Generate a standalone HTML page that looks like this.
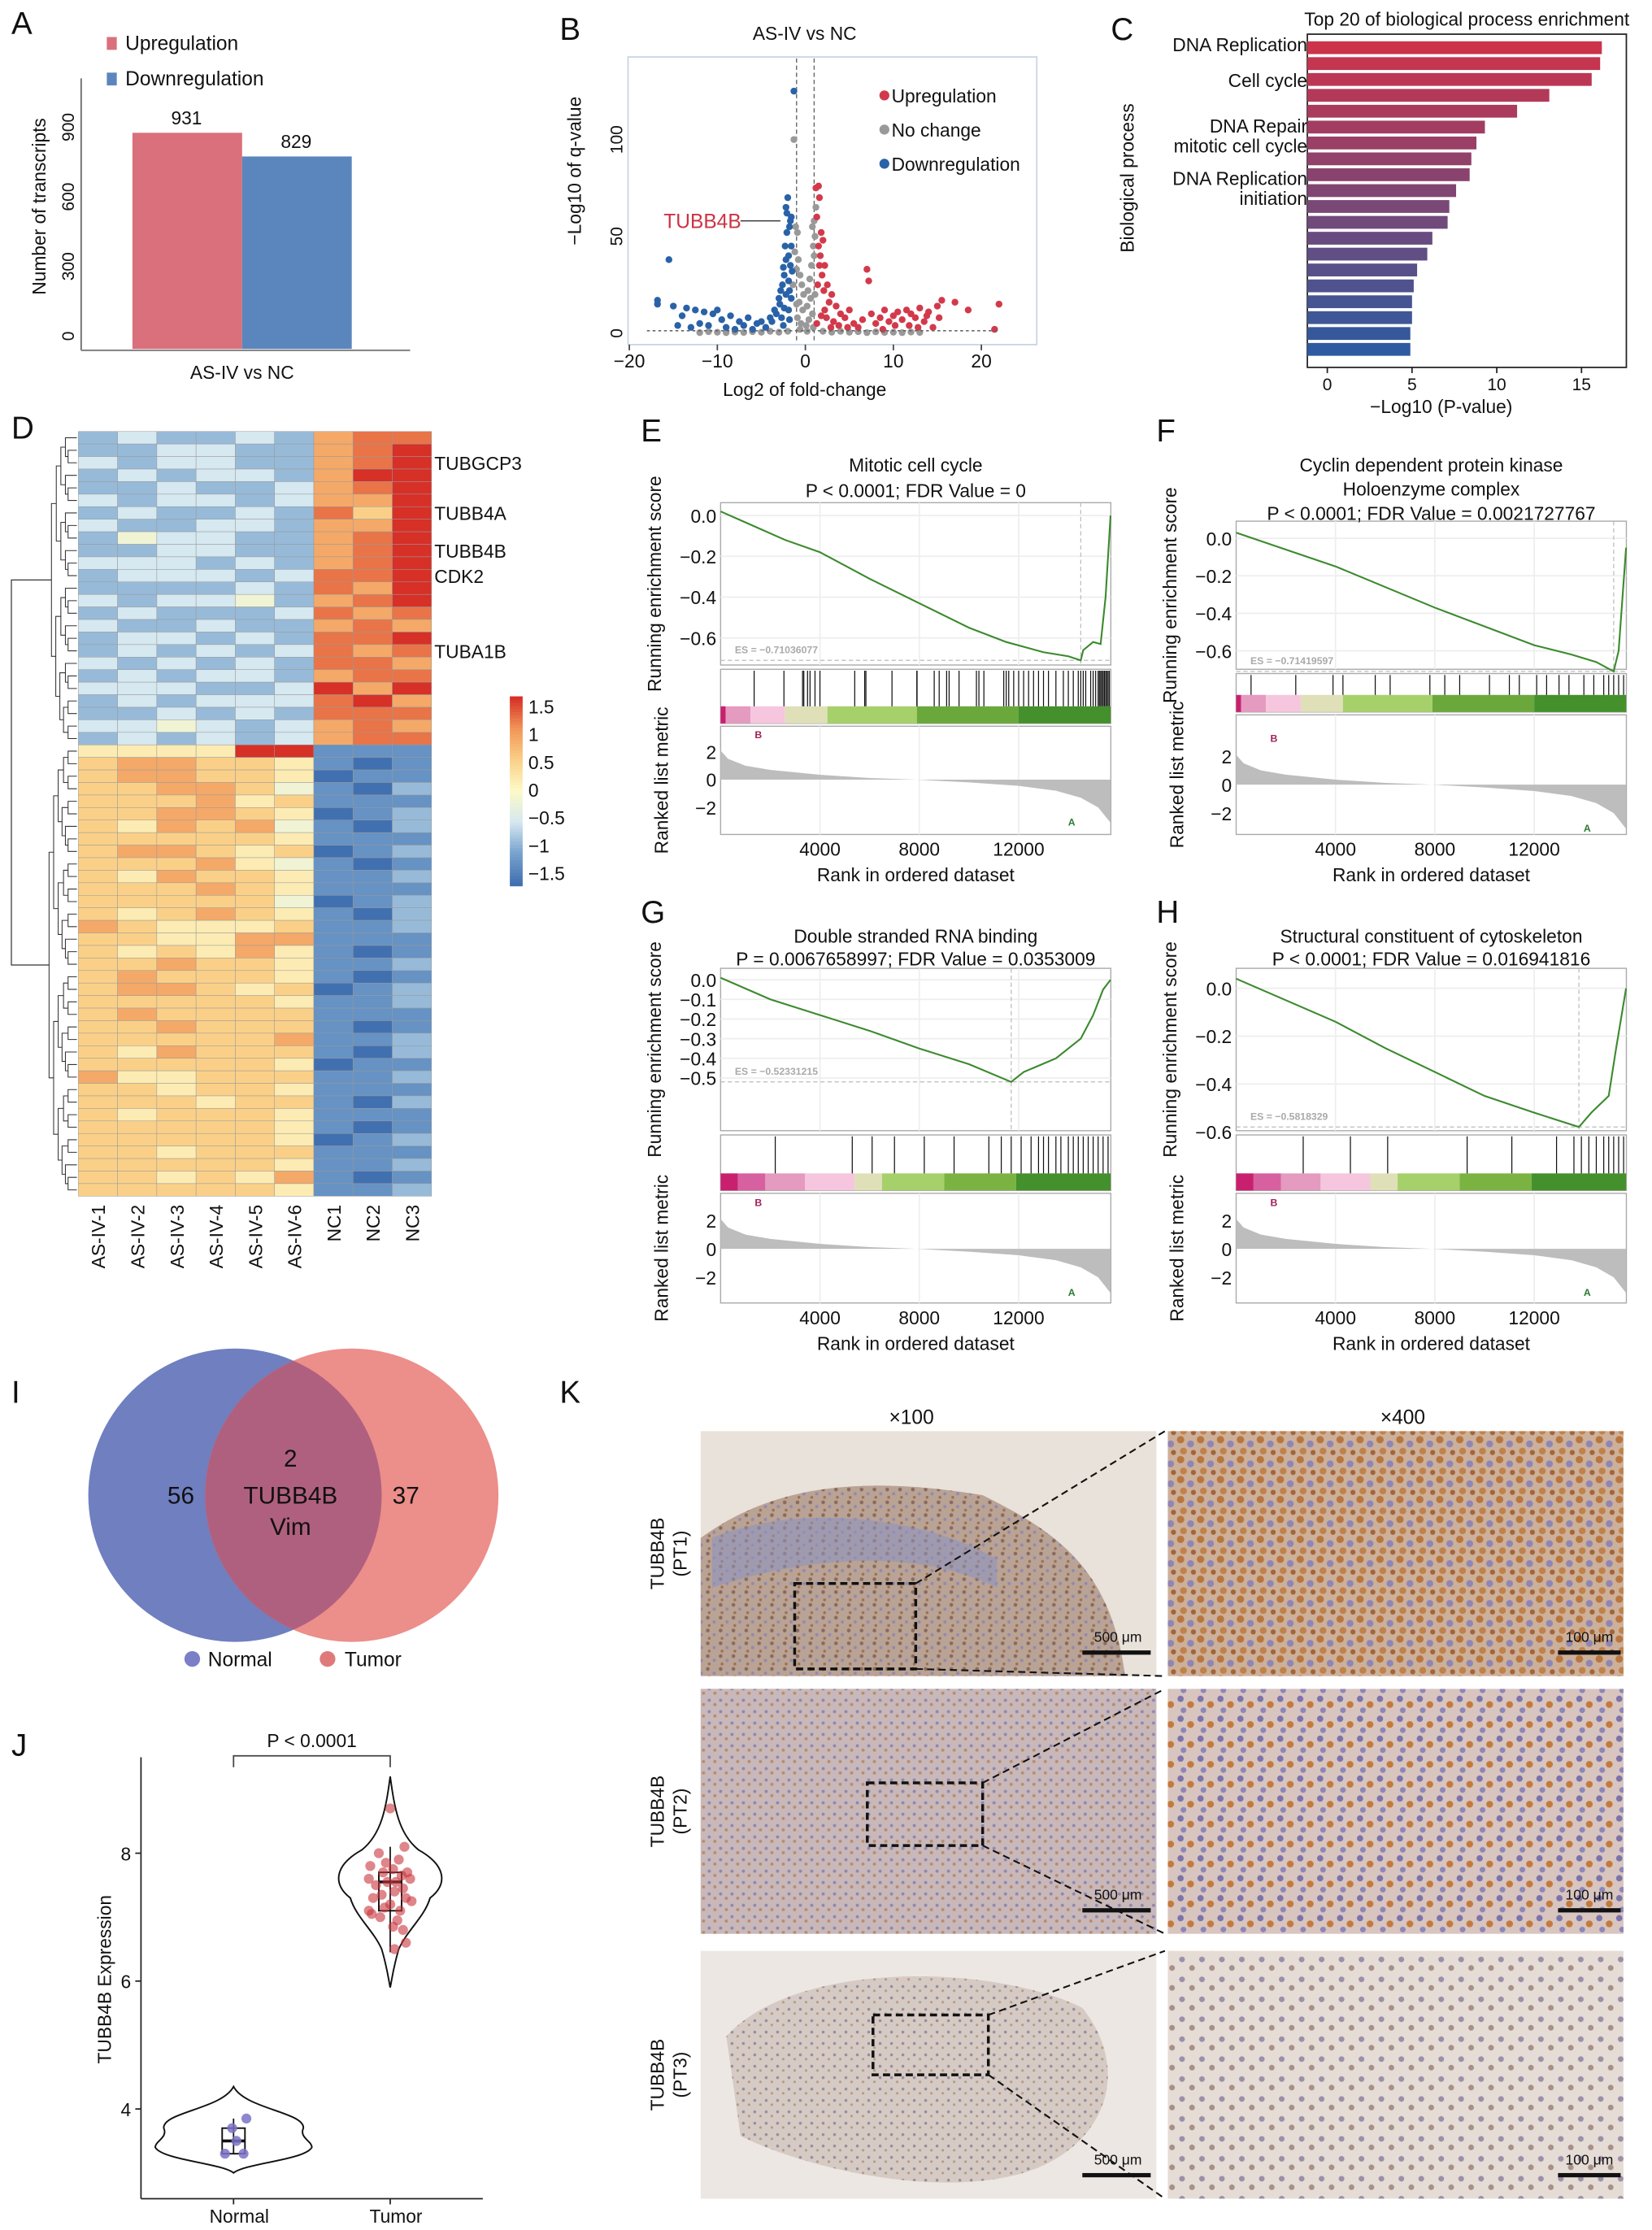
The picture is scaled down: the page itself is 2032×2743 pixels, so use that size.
<!DOCTYPE html>
<html><head><meta charset="utf-8">
<style>
html,body{margin:0;padding:0;background:#fff;}
svg{display:block;font-family:"Liberation Sans",Arial,sans-serif;}
</style></head>
<body>
<svg id="fig" width="2032" height="2743" viewBox="0 0 1160 1566" preserveAspectRatio="none" xmlns="http://www.w3.org/2000/svg">
<defs>
<pattern id="tisA" width="9" height="9" patternUnits="userSpaceOnUse"><rect width="9" height="9" fill="#b9a394"/><circle cx="2" cy="2" r="1.3" fill="#8a6a5e"/><circle cx="6.5" cy="5" r="1.1" fill="#9488b0"/><circle cx="3" cy="7.5" r="1" fill="#a07050"/></pattern>
<pattern id="tisB" width="8" height="8" patternUnits="userSpaceOnUse"><rect width="8" height="8" fill="#c3b2b6"/><circle cx="2" cy="2" r="1.1" fill="#7e74a8"/><circle cx="6" cy="5" r="1.1" fill="#b07a55"/></pattern>
<pattern id="tisC" width="8" height="8" patternUnits="userSpaceOnUse"><rect width="8" height="8" fill="#d6cbc4"/><circle cx="2" cy="3" r="1" fill="#9a8a9a"/><circle cx="6" cy="6" r="0.9" fill="#b59a88"/></pattern>
<pattern id="hiA" width="14" height="14" patternUnits="userSpaceOnUse"><rect width="14" height="14" fill="#cdb09a"/><circle cx="3" cy="3" r="2.6" fill="#b8763e"/><circle cx="10" cy="6" r="2.4" fill="#8f86b5"/><circle cx="5" cy="11" r="2.4" fill="#c0824a"/><circle cx="12" cy="12" r="1.8" fill="#a3643a"/></pattern>
<pattern id="hiB" width="14" height="14" patternUnits="userSpaceOnUse"><rect width="14" height="14" fill="#d8c5c0"/><circle cx="3" cy="3" r="2.2" fill="#7c73aa"/><circle cx="10" cy="7" r="2.4" fill="#c47a3c"/><circle cx="5" cy="11" r="2" fill="#8d86b8"/></pattern>
<pattern id="hiC" width="14" height="14" patternUnits="userSpaceOnUse"><rect width="14" height="14" fill="#e6dcd6"/><circle cx="4" cy="4" r="2" fill="#9c8fa8"/><circle cx="11" cy="10" r="2" fill="#a78f8a"/></pattern>
</defs>
<g id="root"></g>
</svg>
<script>
// ---------- DATA ----------
const barCats = ["Upregulation","Downregulation"];
const barVals = [931,829];
const barTicks = [0,300,600,900];

const volUp = [[1.2,75],[1.5,76],[1.6,70],[1.3,60],[1.8,52],[2,48],[1.5,45],[1.7,40],[2.2,35],[1.9,30],[2.5,25],[2.1,22],[3,20],[2.7,16],[3.5,14],[2.2,12],[4,10],[4.5,8],[3.2,6],[5,12],[5.5,5],[6,3],[7,33],[7.2,27],[7.5,10],[8,5],[8.5,8],[9,12],[9.5,6],[10,9],[10.5,11],[11,7],[11.5,12],[12,10],[12.5,8],[13,13],[13.5,6],[14,11],[14.5,3],[15,14],[15.2,8],[15.5,17],[17,16],[18.5,12],[22,15],[21.5,2],[6.5,7],[4.8,3],[3.8,4],[2.4,8],[1.4,25],[1.6,35],[12.8,3],[10.2,4],[8.8,2],[1.3,5],[1.8,9],[2.9,3],[11.8,4],[13.8,9]];
const volDown = [[-1.3,125],[-2,70],[-2.2,65],[-2.1,62],[-1.7,58],[-1.8,55],[-1.6,60],[-2.1,52],[-2.3,45],[-1.9,40],[-2.2,38],[-1.7,35],[-1.5,32],[-2.4,30],[-1.9,27],[-2.6,25],[-1.8,22],[-2.2,20],[-1.6,18],[-2.9,15],[-2.4,13],[-1.9,12],[-3.3,10],[-2.7,8],[-1.8,7],[-3.8,6],[-2.5,4],[-4.5,3],[-5.5,5],[-6.5,8],[-7.5,6],[-8.5,9],[-9.5,7],[-10.5,10],[-11.5,11],[-12.5,12],[-13.5,13],[-14,9],[-15,14],[-16.8,15],[-16.8,17],[-15.5,38],[-12,5],[-11,4],[-9,3],[-8,2],[-13,3],[-14.5,4],[-10,12],[-7,4],[-6,2],[-5,6],[-4,8],[-3.5,12],[-3,18],[-2.8,22],[-1.6,45],[-2.5,34]];
const volNC = [[-1.3,100],[-1.1,55],[-0.9,52],[0.8,55],[1,58],[1.1,50],[0.9,45],[1,40],[0.7,35],[-0.8,38],[-1,33],[-0.6,30],[0.5,28],[-0.4,25],[0.3,22],[-0.2,20],[0.6,18],[-0.7,16],[0.2,14],[-0.3,12],[0.8,10],[-0.9,8],[0.4,7],[-0.5,5],[0.1,4],[0.9,3],[-0.6,2],[0.2,1],[-1,15],[1.1,20],[-1.2,42],[1.2,65],[-1.4,25],[-2,1],[-3,0.5],[-4,1],[-5,0.5],[-6,0.8],[-7,0.4],[-8,0.6],[-9,0.3],[-10,0.5],[-11,0.8],[-12,0.3],[2,1],[3,0.5],[4,1],[5,0.5],[6,0.8],[7,0.3],[8,0.7],[9,0.4],[10,0.5],[11,0.3],[12,0.6],[13,0.4]];
const volXTicks = [-20,-10,0,10,20];
const volYTicks = [0,50,100];

const goTerms = ["DNA Replication","Cell cycle","","DNA Repair","mitotic cell cycle","","DNA Replication","initiation"];
const goVals = [16.2,16.1,15.6,13.1,11.2,9.3,8.8,8.5,8.4,7.6,7.2,7.1,6.2,5.9,5.3,5.1,5.0,5.0,4.9,4.9];
const goTicks = [0,5,10,15];

const heatCols = ["AS-IV-1","AS-IV-2","AS-IV-3","AS-IV-4","AS-IV-5","AS-IV-6","NC1","NC2","NC3"];
const heatRows = ["232232788","223322789","323322789","232332799","223223789","323323779","232232869","322332779","243322789","223322789","333232789","233323889","222232879","323342789","232223878","322322787","233232889","232323878","323232887","232332788","333223979","232333897","223232888","334323787","232323788",
"555599111","677665101","677665011","667764102","666756111","667765012","657674102","666665111","677656012","666754101","657665112","666765111","666664012","656765102","765556112","665577111","656575101","667665112","676665101","677656012","666665112","676666111","667666101","666667112","657666102","666665011","755666112","665665111","666566102","656665111","666665101","666665012","665666111","666665112","665657101","666665112"];
const heatGenes = [["TUBGCP3",2],["TUBB4A",6],["TUBB4B",9],["CDK2",11],["TUBA1B",17]];
const legendTicks = [1.5,1,0.5,0,-0.5,-1,-1.5];

const esE = [[0,0.02],[1300,-0.05],[2600,-0.12],[4000,-0.18],[6000,-0.31],[8000,-0.43],[10000,-0.55],[11500,-0.62],[13000,-0.67],[14000,-0.69],[14500,-0.71],[14600,-0.66],[15000,-0.62],[15300,-0.63],[15500,-0.4],[15700,0.0]];
const esF = [[0,0.03],[2000,-0.06],[4000,-0.15],[6000,-0.26],[8000,-0.37],[10000,-0.47],[12000,-0.57],[13500,-0.62],[14500,-0.66],[15200,-0.71],[15400,-0.6],[15700,-0.05]];
const esG = [[0,0.01],[2000,-0.1],[4000,-0.18],[6000,-0.26],[8000,-0.35],[10000,-0.43],[11700,-0.52],[12200,-0.47],[13500,-0.4],[14500,-0.3],[15000,-0.18],[15400,-0.05],[15700,0.0]];
const esH = [[0,0.04],[2000,-0.05],[4000,-0.14],[6000,-0.25],[8000,-0.35],[10000,-0.45],[12000,-0.52],[13800,-0.58],[14300,-0.52],[15000,-0.45],[15300,-0.25],[15700,0.0]];
const hitsE = [1350,2550,3300,3350,3500,3600,3800,4000,5400,5800,5850,6900,7900,7910,8600,8800,9100,9200,9600,10300,10400,10600,11400,11500,11600,11800,12000,12200,12400,12600,12800,13000,13200,13500,13800,14000,14200,14400,14500,14600,14700,14900,15000,15100,15200,15250,15300,15350,15400,15450,15500,15550,15600,15650];
const hitsF = [600,2400,3900,4300,5600,6200,7800,8400,9000,10200,11000,11400,12100,12500,13000,13400,14000,14400,14800,15000,15200,15400,15600];
const hitsG = [2200,5300,6100,7000,8200,9400,10800,11300,11700,12100,12500,12800,13000,13200,13500,13700,14000,14200,14400,14600,14800,15000,15200,15400,15600];
const hitsH = [2700,4600,6100,9300,11100,12900,13600,13900,14200,14500,14800,15000,15200,15400,15600];
const metric = [[0,2.1],[300,1.5],[1000,1],[2000,0.7],[4000,0.35],[6000,0.12],[7900,0],[10000,-0.2],[12000,-0.45],[13500,-0.8],[14500,-1.3],[15200,-2],[15700,-3.1]];
const rankTicks = [4000,8000,12000];

const vennCounts = [56,2,37];
const violinNormal = [3.3,3.5,3.7,3.85,3.3];
const violinTumor = [8.7,8.1,8.0,7.9,7.85,7.8,7.75,7.7,7.7,7.65,7.6,7.6,7.55,7.55,7.5,7.45,7.4,7.35,7.3,7.3,7.25,7.2,7.15,7.1,7.1,7.05,7.0,6.95,6.85,6.8,6.6,6.5];
const violinTicks = [4,6,8];

// ---------- HELPERS ----------
const NS="http://www.w3.org/2000/svg";
const root=document.getElementById('root');
function mk(tag,attrs,parent){const e=document.createElementNS(NS,tag);for(const k in attrs)e.setAttribute(k,attrs[k]);(parent||root).appendChild(e);return e;}
function tx(x,y,s,size,opts,parent){opts=opts||{};const e=mk('text',{x:x,y:y,'font-size':size,fill:opts.fill||'#111','text-anchor':opts.anchor||'start'},parent);if(opts.rot)e.setAttribute('transform','rotate('+opts.rot+' '+x+' '+y+')');if(opts.weight)e.setAttribute('font-weight',opts.weight);e.textContent=s;return e;}
function grp(name){const g=mk('g',{});return g;}

[["A",8,24],["B",393,28],["C",780,28],["D",8,308],["E",450,310],["F",812,310],["G",450,648],["H",812,648],["I",8,985],["J",8,1233],["K",393,985]].forEach(p=>{
  const t=tx(p[1],p[2],p[0],22,{});
  
  
});

// ---------- A ----------
(function(){
  const g=grp('panel-a-bar-chart');
  const y=v=>245-v*0.163;
  const cols=["#d9707b","#5b86bd"];
  barCats.forEach((c,i)=>{
    const r=mk('rect',{x:93+i*77,y:y(barVals[i]),width:77,height:245-y(barVals[i]),fill:cols[i]},g);
    
    
    tx(131+i*77,y(barVals[i])-6,String(barVals[i]),13,{anchor:'middle'},g);
    const lr=mk('rect',{x:75,y:26+i*25,width:7,height:9,fill:cols[i]},g);
    
    
    tx(88,35+i*25,c,14,{},g);
  });
  mk('line',{x1:57,y1:55,x2:57,y2:246,stroke:'#444','stroke-width':0.8},g);
  mk('line',{x1:57,y1:246,x2:288,y2:246,stroke:'#888','stroke-width':1.2},g);
  barTicks.forEach(v=>tx(52,y(v)-9,String(v),12,{anchor:'middle',rot:-90},g));
  tx(32,145,'Number of transcripts',13,{anchor:'middle',rot:-90},g);
  tx(170,266,'AS-IV vs NC',13,{anchor:'middle'},g);
})();

// ---------- B ----------
(function(){
  const g=grp('panel-b-volcano');
  const x=v=>565.5+v*6.18, y=v=>234-v*1.36;
  mk('rect',{x:441,y:40,width:287,height:202,fill:'#fff',stroke:'#c8d4e6','stroke-width':1},g);
  tx(565,28,'AS-IV vs NC',13,{anchor:'middle'},g);
  mk('line',{x1:x(-1),y1:41,x2:x(-1),y2:241,stroke:'#666','stroke-dasharray':'3,2','stroke-width':0.8},g);
  mk('line',{x1:x(1),y1:41,x2:x(1),y2:241,stroke:'#666','stroke-dasharray':'3,2','stroke-width':0.8},g);
  const sets=[[volNC,'#999999','points-no-change'],[volDown,'#2a62a8','points-downregulation'],[volUp,'#d23a4c','points-upregulation']];
  sets.forEach(s=>{const sg=mk('g',{},g);
    s[0].forEach(p=>{const c=mk('circle',{cx:x(p[0]),cy:y(p[1]),r:2.4,fill:s[1]},sg);});});
  mk('line',{x1:x(-18),y1:y(1.3),x2:x(22),y2:y(1.3),stroke:'#666','stroke-dasharray':'2,2','stroke-width':0.9},g);
  volXTicks.forEach(v=>{mk('line',{x1:x(v),y1:242,x2:x(v),y2:246,stroke:'#444'},g);tx(x(v),258,v<0?'\u2212'+(-v):String(v),13,{anchor:'middle'},g);});
  volYTicks.forEach(v=>tx(437,y(v),String(v),12,{anchor:'middle',rot:-90},g));
  tx(408,120,'\u2212Log10 of q-value',13,{anchor:'middle',rot:-90},g);
  tx(565,278,'Log2 of fold-change',13,{anchor:'middle'},g);
  mk('line',{x1:520,y1:y(58),x2:548,y2:y(58),stroke:'#333','stroke-width':0.8},g);
  tx(466,y(58)+5,'TUBB4B',14,{fill:'#cc3344'},g);
  [['Upregulation','#d23a4c'],['No change','#999'],['Downregulation','#2a62a8']].forEach((l,i)=>{
    const c=mk('circle',{cx:621,cy:67+i*24,r:3.5,fill:l[1]},g);
    
    tx(626,72+i*24,l[0],13,{},g);});
})();

// ---------- C ----------
(function(){
  const g=grp('panel-c-go-bars');
  const x=v=>932+v*11.9;
  mk('rect',{x:918,y:24,width:224,height:234,fill:'none',stroke:'#222','stroke-width':1},g);
  tx(1030,18,'Top 20 of biological process enrichment',13,{anchor:'middle'},g);
  const n=goVals.length;
  goVals.forEach((v,i)=>{
    const t=i/(n-1);
    const r=Math.round(204+(46-204)*t), gg=Math.round(51+(90-51)*t), b=Math.round(74+(160-74)*t);
    const rc=mk('rect',{x:918,y:29+i*11.15,width:x(v)-918,height:9,fill:`rgb(${r},${gg},${b})`},g);
    
    
  });
  const ly=[36,61,0,93,107,0,130,144];
  goTerms.forEach((t,i)=>{if(t)tx(918,ly[i],t,13,{anchor:'end'},g);});
  goTicks.forEach(v=>{mk('line',{x1:x(v),y1:258,x2:x(v),y2:262,stroke:'#222'},g);tx(x(v),274,String(v),12,{anchor:'middle'},g);});
  tx(1012,290,'\u2212Log10 (P-value)',13,{anchor:'middle'},g);
  tx(796,125,'Biological process',13,{anchor:'middle',rot:-90},g);
})();

// ---------- D ----------
(function(){
  const g=grp('panel-d-heatmap');
  const X0=55,Y0=303,W=248,H=537;
  const cw=W/heatCols.length, rh=H/heatRows.length;
  const stops=[[-1.5,[65,112,176]],[-1,[120,163,206]],[-0.5,[214,232,240]],[0,[253,250,200]],[0.5,[250,208,136]],[1,[241,150,88]],[1.5,[214,48,39]]];
  function col(v){for(let i=0;i<stops.length-1;i++){const a=stops[i],b=stops[i+1];if(v<=b[0]){const t=Math.max(0,(v-a[0])/(b[0]-a[0]));return 'rgb('+a[1].map((c,k)=>Math.round(c+(b[1][k]-c)*t)).join(',')+')';}}return 'rgb(214,48,39)';}
  heatRows.forEach((row,r)=>{for(let c=0;c<heatCols.length;c++){
    const v=-1.5+parseInt(row[c])*(3/9);
    const cell=mk('rect',{x:X0+c*cw,y:Y0+r*rh,width:cw,height:rh,fill:col(v),stroke:'#9a9a9a','stroke-width':0.3},g);
    
    
  }});
  heatGenes.forEach(gn=>tx(305,Y0+gn[1]*rh+rh/2+5,gn[0],13,{},g));
  heatCols.forEach((c,i)=>tx(X0+(i+0.5)*cw+5,846,c,13,{anchor:'end',rot:-90},g));
  const dg=mk('g',{},g);
  function den(lo,hi){
    if(hi-lo===1)return [X0-1,Y0+lo*rh+rh/2];
    const mid=Math.floor((lo+hi)/2);
    const a=den(lo,mid),b=den(mid,hi);
    const n=hi-lo;
    const xx=Math.min(a[0],b[0],X0-3-Math.log2(n)*3.2)-1;
    mk('path',{d:`M${a[0]},${a[1]}H${xx}V${b[1]}H${b[0]}`,fill:'none',stroke:'#333','stroke-width':0.6},dg);
    return [xx,(a[1]+b[1])/2];
  }
  const t=den(0,25), b=den(25,heatRows.length);
  mk('path',{d:`M${t[0]},${t[1]}H8V${b[1]}H${b[0]}`,fill:'none',stroke:'#333','stroke-width':0.7},dg);
  const lg=mk('g',{},g);
  for(let i=0;i<60;i++){const v=1.5-3*i/59;mk('rect',{x:358,y:489+i*133/60,width:9,height:133/60+0.4,fill:col(v)},lg);}
  legendTicks.forEach(v=>tx(371,497+(1.5-v)/3*117+4,v<0?'\u2212'+(-v):String(v),13,{},lg));
})();

// ---------- GSEA ----------
function gsea(cfg){
  const g=grp(cfg.name);
  const x=r=>cfg.x0+r*0.01744;
  const W=274;
  const y=v=>cfg.y0-v*cfg.k;
  mk('rect',{x:cfg.x0,y:cfg.top,width:W,height:cfg.tb-cfg.top,fill:'#fff',stroke:'#aaa','stroke-width':0.8},g);
  rankTicks.forEach(r=>mk('line',{x1:x(r),y1:cfg.top,x2:x(r),y2:cfg.tb,stroke:'#eee'},g));
  cfg.ticks.forEach(v=>{mk('line',{x1:cfg.x0,y1:y(v),x2:cfg.x0+W,y2:y(v),stroke:'#eee'},g);tx(cfg.x0-3,y(v)+5,(v<0?'\u2212':'')+Math.abs(v).toFixed(1),13,{anchor:'end'},g);});
  const mn=cfg.es.reduce((m,p)=>p[1]<m[1]?p:m);
  mk('line',{x1:cfg.x0,y1:y(mn[1]),x2:cfg.x0+W,y2:y(mn[1]),stroke:'#bbb','stroke-dasharray':'3,2','stroke-width':0.7},g);
  mk('line',{x1:x(mn[0]),y1:cfg.top,x2:x(mn[0]),y2:cfg.tb,stroke:'#bbb','stroke-dasharray':'3,2','stroke-width':0.7},g);
  const ln=mk('path',{d:'M'+cfg.es.map(p=>x(p[0])+','+y(p[1])).join('L'),fill:'none',stroke:'#3c8a2e','stroke-width':1.2},g);
  
  tx(cfg.x0+10,y(mn[1])-5,cfg.esText,7,{fill:'#aaa',weight:'bold'},g);
  const bt=cfg.tb+3, bb=cfg.lt-2, sb=bb-12;
  mk('rect',{x:cfg.x0,y:bt,width:W,height:bb-bt,fill:'#fff',stroke:'#aaa','stroke-width':0.8},g);
  cfg.strip.forEach(s=>mk('rect',{x:x(s[0]),y:sb,width:x(s[1])-x(s[0]),height:12,fill:s[2]},g));
  cfg.hits.forEach(h=>{const l=mk('line',{x1:x(h),y1:bt+1,x2:x(h),y2:sb,stroke:'#111','stroke-width':0.7},g);});
  const my=v=>cfg.m0-v*cfg.mk;
  mk('rect',{x:cfg.x0,y:cfg.lt,width:W,height:cfg.lb-cfg.lt,fill:'#fff',stroke:'#aaa','stroke-width':0.8},g);
  rankTicks.forEach(r=>mk('line',{x1:x(r),y1:cfg.lt,x2:x(r),y2:cfg.lb,stroke:'#eee'},g));
  const ar=mk('path',{d:'M'+x(0)+','+my(0)+'L'+metric.map(p=>x(p[0])+','+my(p[1])).join('L')+'L'+x(15700)+','+my(0)+'Z',fill:'#bdbdbd'},g);
  
  [2,0,-2].forEach(v=>tx(cfg.x0-3,my(v)+5,(v<0?'\u2212':'')+Math.abs(v),13,{anchor:'end'},g));
  tx(cfg.x0+24,my(3),'B',7,{fill:'#a0205a',weight:'bold'},g);
  tx(cfg.x0+244,my(-3)+3,'A',7,{fill:'#2e7d32',weight:'bold'},g);
  rankTicks.forEach(r=>tx(x(r),cfg.lb+15,String(r),13,{anchor:'middle'},g));
  tx(cfg.x0+137,cfg.lb+33,'Rank in ordered dataset',13,{anchor:'middle'},g);
  cfg.title.forEach((t,i)=>tx(cfg.x0+137,cfg.ty+i*cfg.tls,t,13,{anchor:'middle'},g));
  tx(cfg.x0-42,(cfg.top+cfg.tb)/2,'Running enrichment score',13,{anchor:'middle',rot:-90},g);
  tx(cfg.x0-37,(cfg.lt+cfg.lb)/2,'Ranked list metric',13,{anchor:'middle',rot:-90},g);
}
const stripA=[[0,200,'#c8206f'],[200,1200,'#e59ac0'],[1200,2600,'#f5c6de'],[2600,4300,'#dfe0b8'],[4300,7900,'#a6d06a'],[7900,12000,'#6aa83c'],[12000,15700,'#43902c']];
const stripB=[[0,700,'#c8206f'],[700,1800,'#d760a0'],[1800,3400,'#e59ac0'],[3400,5400,'#f5c6de'],[5400,6500,'#dfe0b8'],[6500,9000,'#a6d06a'],[9000,11900,'#7bb342'],[11900,15700,'#43902c']];
gsea({name:'panel-e-gsea',x0:506,top:353,tb:467,lt:510,lb:586,y0:362,k:143.3,ticks:[0,-0.2,-0.4,-0.6],es:esE,hits:hitsE,strip:stripA,m0:547.5,mk:9.75,title:['Mitotic cell cycle','P < 0.0001; FDR Value = 0'],ty:331,tls:18,esText:'ES = \u22120.71036077'});
gsea({name:'panel-f-gsea',x0:868,top:366,tb:470,lt:502,lb:586,y0:378,k:131.7,ticks:[0,-0.2,-0.4,-0.6],es:esF,hits:hitsF,strip:stripA,m0:551,mk:10,title:['Cyclin dependent protein kinase','Holoenzyme complex','P < 0.0001; FDR Value = 0.0021727767'],ty:331,tls:17,esText:'ES = \u22120.71419597'});
gsea({name:'panel-g-gsea',x0:506,top:680,tb:794,lt:838,lb:915,y0:688,k:138,ticks:[0,-0.1,-0.2,-0.3,-0.4,-0.5],es:esG,hits:hitsG,strip:stripB,m0:877,mk:10,title:['Double stranded RNA binding','P = 0.0067658997; FDR Value = 0.0353009'],ty:662,tls:16,esText:'ES = \u22120.52331215'});
gsea({name:'panel-h-gsea',x0:868,top:680,tb:794,lt:838,lb:915,y0:694,k:168,ticks:[0,-0.2,-0.4,-0.6],es:esH,hits:hitsH,strip:stripB,m0:877,mk:10,title:['Structural constituent of cytoskeleton','P < 0.0001; FDR Value = 0.016941816'],ty:662,tls:16,esText:'ES = \u22120.5818329'});

// ---------- I ----------
(function(){
  const g=grp('panel-i-venn');
  const c1=mk('circle',{cx:165,cy:1050,r:103,fill:'#6f7fc0'},g);
  
  const c2=mk('circle',{cx:247,cy:1050,r:103,fill:'#ec8e8a'},g);
  
  mk('clipPath',{id:'vclip'},g).appendChild(document.createElementNS(NS,'circle'));
  const cc=document.querySelector('#vclip circle');cc.setAttribute('cx',165);cc.setAttribute('cy',1050);cc.setAttribute('r',103);
  mk('circle',{cx:247,cy:1050,r:103,fill:'#b0607f','clip-path':'url(#vclip)'},g);
  tx(127,1056,String(vennCounts[0]),17,{anchor:'middle'},g);
  tx(204,1030,String(vennCounts[1]),17,{anchor:'middle'},g);
  tx(204,1056,'TUBB4B',17,{anchor:'middle'},g);
  tx(204,1078,'Vim',17,{anchor:'middle'},g);
  tx(285,1056,String(vennCounts[2]),17,{anchor:'middle'},g);
  mk('circle',{cx:135,cy:1165,r:5.5,fill:'#7a7fc8'},g);tx(146,1170,'Normal',14,{},g);
  mk('circle',{cx:230,cy:1165,r:5.5,fill:'#e07a7a'},g);tx(242,1170,'Tumor',14,{},g);
})();

// ---------- J ----------
(function(){
  const g=grp('panel-j-violin');
  const y=v=>1481-(v-4)*44.9;
  const xn=164, xt=274;
  mk('line',{x1:99,y1:1234,x2:99,y2:1544,stroke:'#222','stroke-width':1},g);
  mk('line',{x1:99,y1:1544,x2:339,y2:1544,stroke:'#222','stroke-width':1},g);
  violinTicks.forEach(v=>{mk('line',{x1:95,y1:y(v),x2:99,y2:y(v),stroke:'#222'},g);tx(92,y(v)+5,String(v),13,{anchor:'end'},g);});
  [[xn,'Normal'],[xt,'Tumor']].forEach(p=>{mk('line',{x1:p[0],y1:1544,x2:p[0],y2:1548,stroke:'#222'},g);tx(p[0]+4,1561,p[1],13,{anchor:'middle'},g);});
  tx(78,1390,'TUBB4B Expression',13,{anchor:'middle',rot:-90},g);
  mk('path',{d:`M${xn},1241V1233H${xt}V1241`,fill:'none',stroke:'#444'},g);
  tx(219,1227,'P < 0.0001',13,{anchor:'middle'},g);
  const vn=`M${xn},${y(4.35)} C${xn+8},${y(4.0)} ${xn+50},${y(3.95)} ${xn+49},${y(3.7)} C${xn+46},${y(3.55)} ${xn+55},${y(3.5)} ${xn+55},${y(3.4)} C${xn+50},${y(3.2)} ${xn+8},${y(3.15)} ${xn},${y(3.0)} C${xn-8},${y(3.15)} ${xn-50},${y(3.2)} ${xn-55},${y(3.4)} C${xn-55},${y(3.5)} ${xn-46},${y(3.55)} ${xn-49},${y(3.7)} C${xn-50},${y(3.95)} ${xn-8},${y(4.0)} ${xn},${y(4.35)}Z`;
  const p1=mk('path',{d:vn,fill:'#fff',stroke:'#111','stroke-width':1.1},g);
  const vt=`M${xt},${y(9.2)} C${xt+3},${y(8.7)} ${xt+6},${y(8.3)} ${xt+20},${y(8.05)} C${xt+40},${y(7.8)} ${xt+40},${y(7.5)} ${xt+28},${y(7.3)} C${xt+24},${y(7.0)} ${xt+12},${y(6.8)} ${xt+6},${y(6.5)} C${xt+2},${y(6.2)} ${xt+1},${y(6.0)} ${xt},${y(5.9)} C${xt-1},${y(6.0)} ${xt-2},${y(6.2)} ${xt-6},${y(6.5)} C${xt-12},${y(6.8)} ${xt-24},${y(7.0)} ${xt-28},${y(7.3)} C${xt-40},${y(7.5)} ${xt-40},${y(7.8)} ${xt-20},${y(8.05)} C${xt-6},${y(8.3)} ${xt-3},${y(8.7)} ${xt},${y(9.2)}Z`;
  const p2=mk('path',{d:vt,fill:'#fff',stroke:'#111','stroke-width':1.1},g);
  mk('line',{x1:xn,y1:y(3.85),x2:xn,y2:y(3.3),stroke:'#111'},g);
  mk('rect',{x:xn-8,y:y(3.7),width:16,height:y(3.3)-y(3.7),fill:'none',stroke:'#111','stroke-width':1.1},g);
  mk('line',{x1:xn-8,y1:y(3.5),x2:xn+8,y2:y(3.5),stroke:'#111','stroke-width':2},g);
  mk('line',{x1:xt,y1:y(8.1),x2:xt,y2:y(6.45),stroke:'#111'},g);
  mk('rect',{x:xt-8,y:y(7.7),width:16,height:y(7.1)-y(7.7),fill:'none',stroke:'#111','stroke-width':1.1},g);
  mk('line',{x1:xt-8,y1:y(7.55),x2:xt+8,y2:y(7.55),stroke:'#111','stroke-width':2},g);
  const jn=[-6,2,-1,9,7];
  violinNormal.forEach((v,i)=>{const c=mk('circle',{cx:xn+jn[i],cy:y(v),r:3.5,fill:'#7a72c8','fill-opacity':0.85},g);});
  const jt=[0,10,-8,6,-3,-14,2,12,-5,8,-15,14,4,-2,-10,9,3,-6,11,-12,15,0,-4,7,-15,-13,-7,5,2,9,11,3];
  violinTumor.forEach((v,i)=>{const c=mk('circle',{cx:xt+jt[i],cy:y(v),r:3.5,fill:'#c8363c','fill-opacity':0.6},g);});
})();

// ---------- K ----------
(function(){
  const g=grp('panel-k-ihc');
  tx(640,1000,'\u00d7100',14,{anchor:'middle'},g);
  tx(985,1000,'\u00d7400',14,{anchor:'middle'},g);
  const rows=[{y:1005,h:172,p:'tisA',q:'hiA',box:[558,1112,85,60],lab:'PT1',bg:'#e9e2da'},
              {y:1186,h:172,p:'tisB',q:'hiB',box:[609,1252,81,44],lab:'PT2',bg:'#ddd0c8'},
              {y:1370,h:174,p:'tisC',q:'hiC',box:[613,1415,81,42],lab:'PT3',bg:'#ece7e2'}];
  rows.forEach((r,i)=>{
    const L=mk('rect',{x:492,y:r.y,width:320,height:r.h,fill:r.bg},g);
    
    if(i===0){mk('path',{d:`M492,${r.y+75} C540,${r.y+40} 600,${r.y+30} 690,${r.y+45} C740,${r.y+70} 780,${r.y+95} 790,${r.y+172} L492,${r.y+172}Z`,fill:'url(#tisA)'},g);
      mk('path',{d:`M500,${r.y+75} C560,${r.y+50} 650,${r.y+60} 700,${r.y+90} L700,${r.y+110} C640,${r.y+80} 560,${r.y+90} 500,${r.y+110}Z`,fill:'#8d93c4',opacity:0.55},g);}
    else if(i===1){mk('rect',{x:492,y:r.y,width:320,height:r.h,fill:'url(#tisB)',opacity:0.8},g);}
    else {mk('path',{d:`M510,${r.y+60} C560,${r.y+5} 700,${r.y+10} 760,${r.y+40} C800,${r.y+90} 770,${r.y+150} 700,${r.y+160} C640,${r.y+170} 560,${r.y+150} 520,${r.y+130}Z`,fill:'url(#tisC)'},g);}
    const R=mk('rect',{x:820,y:r.y,width:320,height:r.h,fill:'url(#'+r.q+')'},g);
    
    const b=r.box;
    mk('rect',{x:b[0],y:b[1],width:b[2],height:b[3],fill:'none',stroke:'#111','stroke-width':2,'stroke-dasharray':'5,3'},g);
    mk('line',{x1:b[0]+b[2],y1:b[1],x2:818,y2:r.y,stroke:'#111','stroke-dasharray':'5,3','stroke-width':1.2},g);
    mk('line',{x1:b[0]+b[2],y1:b[1]+b[3],x2:818,y2:r.y+r.h,stroke:'#111','stroke-width':1.2,'stroke-dasharray':'5,3'},g);
    tx(785,r.y+r.h-24,'500 \u03bcm',10,{anchor:'middle'},g);
    mk('rect',{x:760,y:r.y+r.h-18,width:48,height:3,fill:'#111'},g);
    tx(1116,r.y+r.h-24,'100 \u03bcm',10,{anchor:'middle'},g);
    mk('rect',{x:1094,y:r.y+r.h-18,width:44,height:3,fill:'#111'},g);
    tx(466,r.y+r.h/2,'TUBB4B',13,{anchor:'middle',rot:-90},g);
    tx(482,r.y+r.h/2,'('+r.lab+')',13,{anchor:'middle',rot:-90},g);
  });
})();
</script>
</body></html>
